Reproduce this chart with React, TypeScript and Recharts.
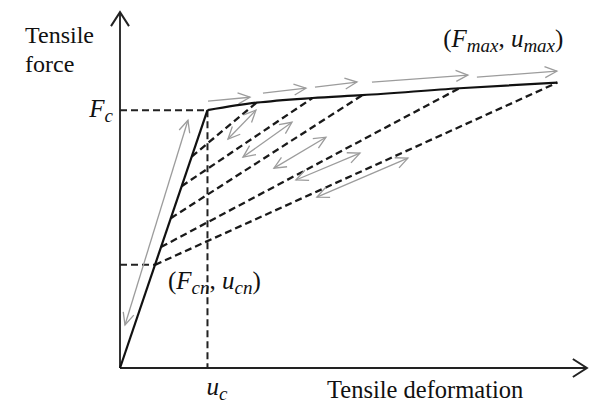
import { LineChart, Line, XAxis, YAxis, ReferenceDot } from 'recharts';

const FONT = "'Liberation Serif', 'Times New Roman', serif";

// deformation as u / uc, force as F / Fc
const backboneU = [1, 1.56, 2.2, 2.77, 3.88, 5.0];
const backboneF = [1, 1.029, 1.047, 1.058, 1.085, 1.107];

// each reloading path leaves the elastic branch (where F = u) and meets the backbone
const reloadStartF = [0.82, 0.705, 0.581, 0.469, 0.4];

const Fc = 1;
const uc = 1;
const Fcn = 0.4;

// gray direction arrows, [u0, F0, u1, F1]
const elasticArrow = [0.057, 0.167, 0.777, 0.961];
const backboneArrows = [
  [1.006, 1.035, 1.486, 1.05],
  [1.634, 1.066, 2.126, 1.085],
  [2.229, 1.089, 2.709, 1.109],
  [2.88, 1.109, 3.977, 1.136],
  [4.08, 1.128, 4.994, 1.151],
];
const cycleArrows = [
  [1.234, 0.888, 1.554, 1.0],
  [1.406, 0.818, 1.966, 0.953],
  [1.76, 0.775, 2.354, 0.895],
  [2.011, 0.729, 2.743, 0.833],
  [2.251, 0.663, 3.291, 0.814],
];

const axisEndU = 5.337;
const axisEndF = 1.38;

const seg = (u0: number, F0: number, u1: number, F1: number) => [
  { u: u0, F: F0 },
  { u: u1, F: F1 },
];

const elastic = seg(0, 0, uc, Fc);
const backbone = backboneU.map((u, i) => ({ u, F: backboneF[i] }));
const reloads = reloadStartF.map((f, i) => seg(f, f, backboneU[i + 1], backboneF[i + 1]));

type Part = { t: string; it?: boolean; sub?: boolean };

const mathLabel =
  (parts: Part[], dx: number, dy: number, anchor: 'start' | 'end') => (props: any) => {
    const vb = props.viewBox || {};
    let low = false;
    return (
      <text
        x={vb.x + dx}
        y={vb.y + dy}
        textAnchor={anchor}
        fontFamily={FONT}
        fontSize={25}
        fill="#111"
      >
        {parts.map((p, i) => {
          const shift = p.sub && !low ? 5 : !p.sub && low ? -5 : 0;
          low = !!p.sub;
          return (
            <tspan
              key={i}
              dy={shift}
              fontStyle={p.it ? 'italic' : 'normal'}
              fontSize={p.sub ? 19 : 25}
            >
              {p.t}
            </tspan>
          );
        })}
      </text>
    );
  };

const lineBase = {
  dataKey: 'F',
  dot: false,
  activeDot: false,
  isAnimationActive: false,
  type: 'linear' as const,
};

export default function App() {
  return (
    <div
      style={{ position: 'absolute', left: 0, top: 0, width: 591, height: 405, background: '#fff' }}
    >
      <svg width={0} height={0} style={{ position: 'absolute' }}>
        <defs>
          <marker
            id="grayHead"
            viewBox="-14 -7 16 14"
            markerWidth={16}
            markerHeight={14}
            refX={0}
            refY={0}
            orient="auto-start-reverse"
            markerUnits="userSpaceOnUse"
            overflow="visible"
          >
            <path d="M-12,-5.5 L0,0 L-12,5.5" fill="none" stroke="#9c9c9c" strokeWidth={1.3} />
          </marker>
          <marker
            id="axisHead"
            viewBox="-16 -10 18 20"
            markerWidth={18}
            markerHeight={20}
            refX={0}
            refY={0}
            orient="auto"
            markerUnits="userSpaceOnUse"
            overflow="visible"
          >
            <path d="M-14,-9 L0,0 L-14,9" fill="none" stroke="#222" strokeWidth={2} />
          </marker>
        </defs>
      </svg>

      <LineChart width={591} height={405} margin={{ top: 7, right: 3, bottom: 37, left: 120 }}>
        <XAxis type="number" dataKey="u" domain={[0, 5.35]} hide />
        <YAxis type="number" domain={[0, 1.4]} hide />

        {/* axes */}
        <Line {...lineBase} data={seg(0, 0, axisEndU, 0)} stroke="#222" strokeWidth={2} markerEnd="url(#axisHead)" />
        <Line {...lineBase} data={seg(0, 0, 0, axisEndF)} stroke="#333" strokeWidth={2} markerEnd="url(#axisHead)" />

        {/* guide lines */}
        <Line {...lineBase} data={seg(0, Fc, uc, Fc)} stroke="#222" strokeWidth={2} strokeDasharray="7 4" />
        <Line {...lineBase} data={seg(uc, Fc, uc, 0)} stroke="#222" strokeWidth={2} strokeDasharray="7 4" />
        <Line {...lineBase} data={seg(0, Fcn, Fcn, Fcn)} stroke="#222" strokeWidth={2} strokeDasharray="7 4" />

        {/* reloading paths */}
        {reloads.map((d, i) => (
          <Line key={`r${i}`} {...lineBase} data={d} stroke="#1a1a1a" strokeWidth={2.3} strokeDasharray="7 4" />
        ))}

        {/* gray arrows */}
        <Line
          {...lineBase}
          data={seg(elasticArrow[0], elasticArrow[1], elasticArrow[2], elasticArrow[3])}
          stroke="#9c9c9c"
          strokeWidth={1.3}
          markerStart="url(#grayHead)"
          markerEnd="url(#grayHead)"
        />
        {backboneArrows.map((a, i) => (
          <Line
            key={`b${i}`}
            {...lineBase}
            data={seg(a[0], a[1], a[2], a[3])}
            stroke="#9c9c9c"
            strokeWidth={1.3}
            markerEnd="url(#grayHead)"
          />
        ))}
        {cycleArrows.map((a, i) => (
          <Line
            key={`c${i}`}
            {...lineBase}
            data={seg(a[0], a[1], a[2], a[3])}
            stroke="#9c9c9c"
            strokeWidth={1.3}
            markerStart="url(#grayHead)"
            markerEnd="url(#grayHead)"
          />
        ))}

        {/* force-deformation backbone */}
        <Line {...lineBase} data={elastic} stroke="#111" strokeWidth={2.2} />
        <Line {...lineBase} type="monotone" data={backbone} stroke="#111" strokeWidth={2.2} />

        <ReferenceDot
          x={0}
          y={Fc}
          r={0}
          fill="none"
          stroke="none"
          label={mathLabel([{ t: 'F', it: true }, { t: 'c', it: true, sub: true }], -7, 7, 'end')}
        />
        <ReferenceDot
          x={uc}
          y={0}
          r={0}
          fill="none"
          stroke="none"
          label={mathLabel([{ t: 'u', it: true }, { t: 'c', it: true, sub: true }], -1, 27, 'start')}
        />
        <ReferenceDot
          x={Fcn}
          y={Fcn}
          r={0}
          fill="none"
          stroke="none"
          label={mathLabel(
            [
              { t: '(' },
              { t: 'F', it: true },
              { t: 'cn', it: true, sub: true },
              { t: ', ' },
              { t: 'u', it: true },
              { t: 'cn', it: true, sub: true },
              { t: ')' },
            ],
            13,
            24,
            'start'
          )}
        />
        <ReferenceDot
          x={backboneU[backboneU.length - 1]}
          y={backboneF[backboneF.length - 1]}
          r={0}
          fill="none"
          stroke="none"
          label={mathLabel(
            [
              { t: '(' },
              { t: 'F', it: true },
              { t: 'max', it: true, sub: true },
              { t: ', ' },
              { t: 'u', it: true },
              { t: 'max', it: true, sub: true },
              { t: ')' },
            ],
            6,
            -36,
            'end'
          )}
        />
      </LineChart>

      <svg
        width={591}
        height={405}
        style={{ position: 'absolute', left: 0, top: 0, pointerEvents: 'none' }}
      >
        <text fontFamily={FONT} fontSize={24} fill="#111">
          <tspan x={25} y={43}>Tensile</tspan>
          <tspan x={25} y={72}>force</tspan>
        </text>
        <text x={327} y={398} fontFamily={FONT} fontSize={24.5} fill="#111">
          Tensile deformation
        </text>
      </svg>
    </div>
  );
}
